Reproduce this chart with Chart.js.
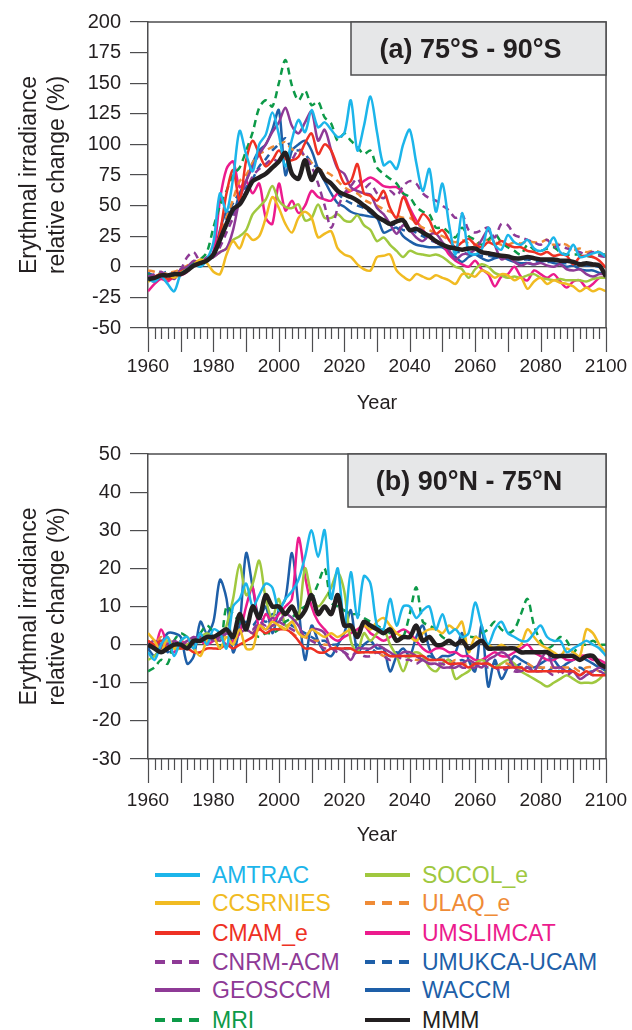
<!DOCTYPE html>
<html>
<head>
<meta charset="utf-8">
<script src="https://cdn.jsdelivr.net/npm/chart.js@4.4.1/dist/chart.umd.min.js"></script>
<style>
body { margin: 0; background: #fff; width: 632px; height: 1030px; position: relative; overflow: hidden;
       font-family: "Liberation Sans", Arial, sans-serif; }
.panel { position: absolute; left: 0; width: 632px; height: 425px; }
.item { position: absolute; height: 28px; line-height: 28px; font-size: 23px; white-space: nowrap; }
.item svg { vertical-align: top; margin-right: 12px; }
</style>
</head>
<body>
<div class="panel" style="top:0"><canvas id="chartA" width="632" height="425"></canvas></div>
<div class="panel" style="top:430px"><canvas id="chartB" width="632" height="425"></canvas></div>
<div id="legend"></div>
<script>
var years = [1960, 1962, 1964, 1966, 1968, 1970, 1972, 1974, 1976, 1978,
    1980, 1982, 1984, 1986, 1988, 1990, 1992, 1994, 1996, 1998,
    2000, 2002, 2004, 2006, 2008, 2010, 2012, 2014, 2016, 2018,
    2020, 2022, 2024, 2026, 2028, 2030, 2032, 2034, 2036, 2038,
    2040, 2042, 2044, 2046, 2048, 2050, 2052, 2054, 2056, 2058,
    2060, 2062, 2064, 2066, 2068, 2070, 2072, 2074, 2076, 2078,
    2080, 2082, 2084, 2086, 2088, 2090, 2092, 2094, 2096, 2098, 2100];

var xTickYears = [1960, 1980, 2000, 2020, 2040, 2060, 2080, 2100];

// (a) 75S-90S, relative change in %
var amtracA = [-10, -12, -8, -14, -20, -6, -2, 2, 0, 6, 20, 60, 45, 72, 111, 92, 78, 100, 108, 126,
    108, 82, 104, 120, 110, 128, 114, 118, 112, 106, 109, 136, 95, 115, 139, 110, 83, 86, 80, 100,
    112, 85, 62, 80, 45, 68, 35, 10, 44, 12, 10, 14, 32, 18, 14, 26, 20, 18, 22, 15,
    13, 16, 24, 12, 10, 18, 8, 9, 11, 12, 8];
var ccsrniesA = [-12, -10, -8, -6, -9, -5, -2, 2, 6, 3, -4, -6, 10, 21, 15, 27, 22, 25, 40, 57,
    48, 35, 28, 40, 45, 40, 24, 27, 29, 15, 10, 8, 2, -2, -3, 8, 9, 10, -3, -8,
    -11, -6, -8, -10, -7, -9, -11, -14, -6, -6, -8, -3, -5, -9, -6, -7, -11, -9, -18, -12,
    -9, -14, -11, -13, -14, -16, -20, -17, -20, -18, -20];
var cmamA = [-10, -8, -6, -10, -8, -4, -2, 1, 3, 6, 10, 28, 60, 79, 54, 87, 103, 92, 82, 87,
    95, 88, 87, 90, 101, 109, 92, 100, 95, 81, 68, 70, 84, 60, 58, 54, 62, 48, 40, 57,
    46, 35, 43, 38, 27, 30, 22, 16, 20, 23, 18, 16, 20, 18, 21, 18, 16, 16, 13, 12,
    10, 12, 9, 10, 9, 2, 8, 9, 8, 5, -1];
var cnrmA = [-8, -6, -4, -8, -5, -2, 8, 12, 4, 6, 8, 16, 28, 40, 52, 62, 74, 80, 84, 88,
    86, 92, 88, 96, 90, 82, 68, 50, 32, 48, 60, 66, 72, 64, 68, 60, 56, 62, 58, 66,
    70, 68, 60, 56, 54, 50, 46, 40, 43, 30, 28, 30, 32, 24, 35, 34, 26, 24, 22, 20,
    18, 22, 16, 18, 15, 14, 12, 10, 12, 9, 8];
var geosA = [-10, -12, -8, -6, -10, -2, 0, 5, 3, 8, 8, 12, 15, 30, 55, 70, 82, 92, 100, 110,
    118, 130, 115, 109, 118, 127, 103, 112, 95, 80, 76, 65, 62, 60, 59, 48, 43, 35, 27, 34,
    30, 24, 21, 26, 27, 20, 14, 6, 10, 11, 14, 22, 30, 18, 6, 8, 4, 1, 3, 2,
    3, 1, 0, 2, -2, -3, -2, -6, -8, -6, -6];
var mriA = [-6, -8, -5, -8, -6, -4, 0, 3, 6, 12, 32, 50, 62, 75, 81, 95, 110, 130, 136, 131,
    150, 169, 148, 136, 144, 132, 135, 122, 117, 103, 109, 103, 98, 92, 95, 81, 76, 72, 68, 60,
    57, 49, 45, 43, 32, 32, 28, 24, 32, 25, 22, 18, 22, 27, 20, 16, 13, 10, 18, 14,
    13, 15, 16, 12, 10, 10, 10, 9, 8, 10, 10];
var socolA = [-8, -10, -6, -8, -6, -4, -2, 2, 4, 6, 8, 12, 15, 22, 25, 30, 43, 49, 55, 66,
    54, 49, 48, 51, 38, 40, 51, 40, 40, 43, 38, 37, 42, 34, 30, 21, 24, 18, 13, 8,
    13, 11, 10, 9, 10, 8, 4, 0, -2, -9, -2, 2, 0, -5, -7, -9, -8, -9, -7, -6,
    -9, -10, -11, -10, -11, -11, -11, -12, -10, -9, -9];
var ulaqA = [-3, -4, -6, -5, -4, -2, 1, 3, 5, 6, 10, 25, 40, 55, 70, 75, 85, 92, 95, 98,
    100, 102, 96, 95, 90, 85, 80, 78, 75, 70, 65, 62, 60, 55, 52, 50, 47, 45, 42, 40,
    40, 36, 32, 30, 27, 25, 22, 20, 22, 19, 18, 21, 22, 20, 18, 18, 20, 19, 21, 20,
    20, 22, 18, 19, 18, 14, 15, 12, 13, 12, 8];
var umslimA = [-20, -14, -10, -12, -8, -7, -4, 2, 4, 5, 12, 55, 80, 86, 65, 70, 60, 68, 40, 35,
    68, 46, 54, 44, 50, 62, 57, 55, 54, 60, 60, 62, 65, 70, 73, 70, 66, 65, 65, 60,
    48, 38, 30, 24, 20, 18, 10, 5, 2, 0, 5, -2, -6, -16, -8, -6, 0, -8, -11, -3,
    -6, -9, -6, -12, -17, -12, -11, -17, -14, -9, -9];
var umukcaA = [-5, -7, -6, -4, -6, -3, 0, 2, 4, 6, 12, 25, 40, 52, 60, 65, 72, 82, 88, 95,
    100, 105, 96, 95, 92, 85, 80, 72, 68, 60, 55, 52, 50, 48, 44, 40, 38, 35, 34, 30,
    30, 28, 25, 22, 20, 18, 14, 12, 12, 10, 10, 9, 9, 8, 8, 8, 7, 6, 6, 5,
    5, 4, 4, 3, 3, 3, 2, 1, 1, 0, 0];
var waccmA = [-8, -10, -7, -9, -6, -3, -1, 2, 4, 6, 10, 30, 45, 43, 60, 70, 85, 95, 100, 112,
    128, 75, 95, 100, 103, 95, 80, 70, 60, 52, 49, 45, 43, 42, 41, 40, 28, 30, 32, 25,
    21, 18, 17, 16, 16, 16, 12, 8, 4, 8, 10, 7, 5, 7, 8, 6, 4, 3, 3, 2,
    4, 5, 3, 2, 0, 1, -2, -3, -3, -5, -5];
var mmmA = [-10, -9, -7, -7, -6, -6, -3, 1, 3, 5, 10, 22, 35, 47, 51, 60, 70, 73, 76, 81,
    86, 93, 76, 72, 87, 71, 80, 72, 68, 62, 59, 57, 54, 50, 46, 41, 38, 35, 37, 38,
    30, 31, 28, 25, 21, 18, 16, 15, 14, 15, 15, 12, 11, 10, 9, 8.5, 7, 7, 8, 7,
    6, 6, 6, 5, 5, 4, 2, 3, 2, 1, -8];

// (b) 90N-75N, relative change in %
var amtracB = [-2, -4, 0, 2, -3, 1, 2, -1, 3, 0, 4, 3, -1, 10, 12, 16, 10, 13, 16, 15,
    9, 12, 14, 17, 23, 30, 23, 30, 12, 20, 5, 19, 7, 18, 16, 5, 4, 12, 5, 10,
    10, 7, 9, 10, 4, 8, 3, 4, 2, 3, 11, 5, 0, 4, 6, 3, 2, 1, 1, 3,
    5, 2, 1, 1, -2, -1, 0, 1, 0, -1, -3];
var ccsrniesB = [3, 1, -2, 2, -1, 1, 2, -1, -3, 1, 2, -1, 2, 0, 4, -1, -1, 5, 4, 6,
    5, 4, 6, 3, 2, 4, 3, 2, 3, 2, 3, 4, 3, 5, 4, 6, 7, 5, 3, 2,
    2, 1, 3, 4, 4, 3, 5, 4, 6, -2, 2, 1, 0, -1, 0, -1, -1, 0, 4, 2,
    0, -1, -2, -3, -1, -2, -3, 4, 3, 0, -2];
var cmamB = [1, 0, 1, -1, 0, -1, -1, -2, -2, -1, -1, -1, 0, -1, 0, 1, 2, 4, 3, 4,
    4, 4, 3, 1, -1, -1, -2, -2, -1, -1, -1, -1, -2, -2, -2, -2, -2, -3, -3, -3,
    -3, -3, -3, -4, -4, -4, -5, -5, -5, -6, -5, -5, -5, -6, -6, -6, -6, -6, -7, -7,
    -7, -7, -7, -7, -7, -7, -8, -7, -8, -8, -8];
var cnrmB = [0, 1, -1, 0, 1, 0, -1, 1, 2, 1, 2, 1, 3, 2, 4, 5, 4, 6, 5, 7,
    6, 5, 4, 3, 2, 1, 0, -1, -1, -2, -2, -3, -2, -3, -3, -2, -3, -4, -3, -4,
    -4, -5, -4, -5, -5, -5, -6, -5, -6, -6, -6, -5, -6, -6, -7, -6, -7, -7, -6, -7,
    -7, -7, -8, -7, -8, -7, -8, -7, -8, -7, -8];
var geosB = [0, 1, 0, -1, 1, 0, 1, 2, 1, 2, 1, 2, 3, 2, 3, 4, 3, 5, 4, 5,
    6, 8, 7, 5, 2, 4, 4, 3, -1, -1, -2, -4, -1, -1, -1, 0, -1, -2, -3, -2,
    -2, -3, -4, -5, -5, -6, -6, -6, -5, -4, -5, -6, -4, -3, -2, -3, -6, -7, -6, -7,
    -4, -2, -6, -6, -7, -7, -9, -8, -7, -6, -6];
var mriB = [-7, -6, -4, -5, 1, 3, 2, 1, 3, 5, 3, -1, 10, 8, 6, 4, 3, 2, 3, 3,
    4, 6, 7, 9, 10, 12, 16, 20, 11, 10, 9, 8, 8, 7, 6, 5, 4, 3, 1, 2,
    8, 15, 6, 5, 4, 2, 1, 0, 1, 2, 2, 3, 4, 6, 4, 3, 4, 8, 12, 5,
    1, -1, 0, 2, 1, -2, 0, 0, 1, 0, 0];
var socolB = [-4, -3, -1, 1, -1, -1, 0, 1, 2, 3, 2, 1, 5, 12, 21, 13, 16, 22, 12, 7,
    12, 5, 6, 7, 20, 13, 10, 12, 15, 19, 14, 1, -2, 3, 1, 3, 4, 0, -3, -7,
    -3, -2, -3, -6, -7, -5, -4, -9, -8, -7, -5, -4, -5, -6, -5, -4, -5, -7, -8, -9,
    -10, -11, -10, -9, -8, -9, -10, -10, -10, -9, -7];
var ulaqB = [1, 0, 2, -1, 1, 0, 1, 1, 2, 1, 2, 1, 3, 2, 3, 4, 3, 5, 4, 5,
    5, 4, 3, 2, 2, 1, 1, 0, 0, -1, -1, -1, -2, -2, -2, -2, -3, -3, -3, -3,
    -3, -4, -4, -4, -4, -4, -5, -4, -5, -5, -5, -5, -5, -6, -5, -5, -6, -6, -5, -6,
    -6, -6, -6, -6, -6, -6, -7, -6, -6, -7, -7];
var umslimB = [1, -1, 4, 0, -2, 1, 0, 2, 1, 0, 1, 2, 0, 1, 3, 10, 15, 4, 8, 6,
    8, 10, 12, 28, 18, 10, 6, 4, 2, 1, 2, 3, 4, 5, 3, 2, 1, 2, 3, 4,
    3, 1, -1, -2, -1, -1, -2, -2, -3, -3, -4, -4, -3, -2, -3, -3, -2, -1, 0, -2,
    -3, -4, -4, -3, -4, -4, -3, -3, -4, -4, -5];
var umukcaB = [-1, 0, 1, -2, 0, 1, -1, 0, 2, 1, 3, 2, 4, 3, 5, 6, 5, 7, 6, 8,
    7, 6, 5, 4, 3, 2, 1, 1, 0, 0, -1, -1, 0, -2, -1, -2, -2, -3, -2, -3,
    -3, -3, -4, -3, -4, -4, -4, -5, -4, -5, -5, -5, -6, -5, -6, -6, -6, -5, -6, -6,
    -6, -7, -6, -7, -6, -7, -6, -7, -7, -6, -7];
var waccmB = [-1, -3, 0, 3, 3, 2, -5, -3, 6, 3, 6, 17, 12, -2, 5, 24, 15, 7, 10, 3,
    9, 12, 24, 10, -4, 5, 1, -2, -3, 0, 3, 9, -2, 0, 1, -1, -1, -7, -3, -1,
    -3, 2, 5, -1, -4, -3, -3, -2, 3, -4, -7, 5, -11, -4, -9, -6, -3, -4, -5, -6,
    -5, -4, -4, -6, -5, -4, -3, -4, -5, -6, -6];
var mmmB = [0, -1, -2, -1, 0, 0, -1, 1, 1, 2, 2, 3, 4, 2, 8, 4, 10, 7, 13, 10,
    10, 8, 10, 7, 9, 13, 8, 10, 8, 13, 5, 5, 2, 6, 5, 4, 3, 4, 1, 2,
    2, 5, 1, 2, 0, 0, 1, 0, 1, -1, 0, 1, -1, -1, -1, -1, -1, -2, -2, -2,
    -2, -2, -3, -3, -3, -3, -4, -3, -3, -5, -6];

var models = [
    { name: 'AMTRAC', color: '#1cb5ea', dash: [], a: amtracA, b: amtracB },
    { name: 'CCSRNIES', color: '#f1bb22', dash: [], a: ccsrniesA, b: ccsrniesB },
    { name: 'CMAM_e', color: '#ee3124', dash: [], a: cmamA, b: cmamB },
    { name: 'CNRM-ACM', color: '#8e3a96', dash: [7, 5], a: cnrmA, b: cnrmB },
    { name: 'GEOSCCM', color: '#8e3a96', dash: [], a: geosA, b: geosB },
    { name: 'MRI', color: '#0d9a48', dash: [7, 5], a: mriA, b: mriB },
    { name: 'SOCOL_e', color: '#a0c83f', dash: [], a: socolA, b: socolB },
    { name: 'ULAQ_e', color: '#ef8b36', dash: [7, 5], a: ulaqA, b: ulaqB },
    { name: 'UMSLIMCAT', color: '#ec1b8d', dash: [], a: umslimA, b: umslimB },
    { name: 'UMUKCA-UCAM', color: '#1e5fa8', dash: [7, 5], a: umukcaA, b: umukcaB },
    { name: 'WACCM', color: '#1e5fa8', dash: [], a: waccmA, b: waccmB },
    { name: 'MMM', color: '#231f20', dash: [], a: mmmA, b: mmmB }
];

Chart.defaults.font.family = '"Liberation Sans", Arial, sans-serif';
Chart.defaults.color = '#231f20';

// plot frame, minor/major year ticks and the region label box
var framePlugin = {
    id: 'frame',
    afterDraw: function (chart, args, opts) {
        var ctx = chart.ctx, area = chart.chartArea, x = chart.scales.x;
        ctx.save();
        ctx.strokeStyle = '#4d4d4f';
        ctx.lineWidth = 1.5;
        ctx.beginPath();
        ctx.moveTo(area.left, area.top);
        ctx.lineTo(area.right, area.top);
        ctx.lineTo(area.right, area.bottom);
        ctx.stroke();

        ctx.lineWidth = 1.2;
        ctx.beginPath();
        for (var yr = 1960; yr <= 2100; yr += 2) {
            var px = Math.round(x.getPixelForValue(yr)) + 0.5;
            ctx.moveTo(px, area.bottom);
            ctx.lineTo(px, area.bottom + (yr % 10 === 0 ? 24 : 11));
        }
        ctx.stroke();

        var bx = area.right - opts.boxWidth, by = area.top;
        ctx.fillStyle = '#e6e7e8';
        ctx.fillRect(bx, by, opts.boxWidth, 53);
        ctx.strokeStyle = '#4d4d4f';
        ctx.lineWidth = 1.5;
        ctx.strokeRect(bx, by, opts.boxWidth, 53);
        ctx.fillStyle = '#231f20';
        ctx.font = 'bold 27px "Liberation Sans", Arial, sans-serif';
        ctx.textAlign = 'center';
        ctx.textBaseline = 'middle';
        ctx.fillText(opts.label, bx + opts.boxWidth / 2 - 8, by + 29);
        ctx.restore();
    }
};

function makePanel(canvasId, key, yMin, yMax, yStep, label, boxWidth, padTop, xHeight, labelPad, titlePad) {
    var datasets = models.map(function (m, i) {
        var isMean = m.name === 'MMM';
        return {
            label: m.name,
            data: years.map(function (yr, j) { return { x: yr, y: m[key][j] }; }),
            borderColor: m.color,
            borderWidth: isMean ? 4.5 : 2.5,
            borderDash: m.dash,
            pointRadius: 0,
            tension: 0.3,
            order: isMean ? 0 : i + 1
        };
    });

    return new Chart(document.getElementById(canvasId), {
        type: 'line',
        data: { datasets: datasets },
        plugins: [framePlugin],
        options: {
            responsive: false,
            animation: false,
            devicePixelRatio: 1,
            layout: { padding: { top: padTop, right: 26, left: 0, bottom: 0 } },
            plugins: {
                legend: { display: false },
                tooltip: { enabled: false },
                frame: { label: label, boxWidth: boxWidth }
            },
            scales: {
                x: {
                    type: 'linear',
                    min: 1960,
                    max: 2100,
                    afterBuildTicks: function (scale) {
                        scale.ticks = xTickYears.map(function (v) { return { value: v }; });
                    },
                    afterFit: function (scale) {
                        scale.height = xHeight;
                        scale.paddingLeft = 0;
                        scale.paddingRight = 0;
                    },
                    grid: { display: false },
                    border: { color: '#4d4d4f', width: 1.5 },
                    ticks: {
                        padding: labelPad,
                        maxRotation: 0,
                        autoSkip: false,
                        font: { size: 19 },
                        callback: function (v) { return String(v); }
                    },
                    title: {
                        display: true,
                        text: 'Year',
                        font: { size: 20 },
                        padding: { top: 0, bottom: titlePad }
                    }
                },
                y: {
                    min: yMin,
                    max: yMax,
                    afterFit: function (scale) { scale.width = 148; },
                    grid: {
                        color: function (c) { return c.tick && c.tick.value === 0 ? '#4d4d4f' : 'rgba(0,0,0,0)'; },
                        lineWidth: 1.2,
                        tickColor: '#4d4d4f',
                        tickLength: 18,
                        tickWidth: 1.2
                    },
                    border: { color: '#4d4d4f', width: 1.5 },
                    ticks: {
                        stepSize: yStep,
                        padding: 9,
                        font: { size: 20 },
                        callback: function (v) { return String(v); }
                    },
                    title: {
                        display: true,
                        text: ['Erythmal irradiance', 'relative change (%)'],
                        font: { size: 23, lineHeight: 1.25 },
                        padding: { top: 15, bottom: 0 }
                    }
                }
            }
        }
    });
}

makePanel('chartA', 'a', -50, 200, 25, '(a) 75°S - 90°S', 255, 22, 97, 19, 10);
makePanel('chartB', 'b', -30, 50, 10, '(b) 90°N - 75°N', 258, 24, 96, 22, 8);

// legend: two columns of six entries
var legend = document.getElementById('legend');
var rowTops = [861, 889, 919, 948, 976, 1006];
models.forEach(function (m, i) {
    var col = i < 6 ? 0 : 1, row = i % 6;
    var div = document.createElement('div');
    div.className = 'item';
    div.style.left = (col === 0 ? 155 : 365) + 'px';
    div.style.top = rowTops[row] + 'px';
    div.style.color = m.color;
    var dash = m.dash.length ? ' stroke-dasharray="10,7"' : '';
    div.innerHTML = '<svg width="45" height="28"><line x1="0" y1="14" x2="45" y2="14" stroke="' + m.color +
        '" stroke-width="4"' + dash + '/></svg>' + m.name;
    legend.appendChild(div);
});
</script>
</body>
</html>
